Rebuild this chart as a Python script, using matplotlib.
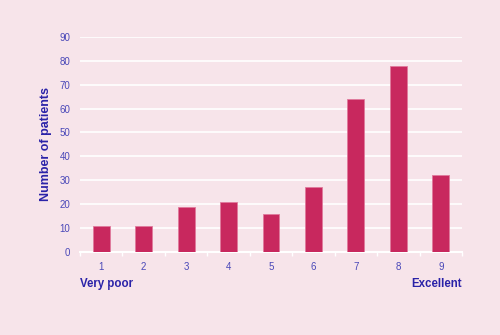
import matplotlib.pyplot as plt
import numpy as np

scores = ["1", "2", "3", "4", "5", "6", "7", "8", "9"]
patients = [11, 11, 19, 21, 16, 27, 64, 78, 32]
y_ticks = [0, 10, 20, 30, 40, 50, 60, 70, 80, 90]

bg = "#f7e4ea"
bar_color = "#c8285e"
tick_color = "#4a48b8"
label_color = "#2a22a8"

plt.rcParams["font.family"] = ["Liberation Sans", "DejaVu Sans"]

fig = plt.figure(figsize=(5, 3.35), dpi=100, facecolor=bg)
ax = fig.add_axes([0.16, 0.248, 0.764, 0.642], facecolor=bg)

x = np.arange(len(scores))
ax.bar(x, patients, width=0.4, color=bar_color, edgecolor="#e07a9c", linewidth=0.6, zorder=3)

ax.set_xlim(-0.5, len(scores) - 0.5)
ax.set_ylim(0, 90)
ax.set_yticks(y_ticks)
ax.set_yticklabels([str(v) for v in y_ticks])
ax.grid(axis="y", color="white", linewidth=1.2, zorder=0)
ax.set_xticks(x)
ax.set_xticklabels(scores)
ax.set_xticks(np.arange(len(scores) + 1) - 0.5, minor=True)

for side in ["top", "right", "left"]:
    ax.spines[side].set_visible(False)
ax.spines["bottom"].set_color("white")
ax.spines["bottom"].set_linewidth(1.5)

ax.tick_params(axis="y", length=0, pad=7, labelsize=7, labelcolor=tick_color)
ax.tick_params(axis="x", which="major", length=0, pad=7, labelsize=7, labelcolor=tick_color)
ax.tick_params(axis="x", which="minor", length=3, width=1, color="white")

ax.set_ylabel("Number of patients", fontsize=9, fontweight="bold", color=label_color, labelpad=5)

fig.text(0.16, 0.152, "Very poor", fontsize=8.3, fontweight="bold", color=label_color, ha="left", va="center")
fig.text(0.924, 0.152, "Excellent", fontsize=8.3, fontweight="bold", color=label_color, ha="right", va="center")

fig.savefig("out.png", dpi=100, facecolor=bg)
